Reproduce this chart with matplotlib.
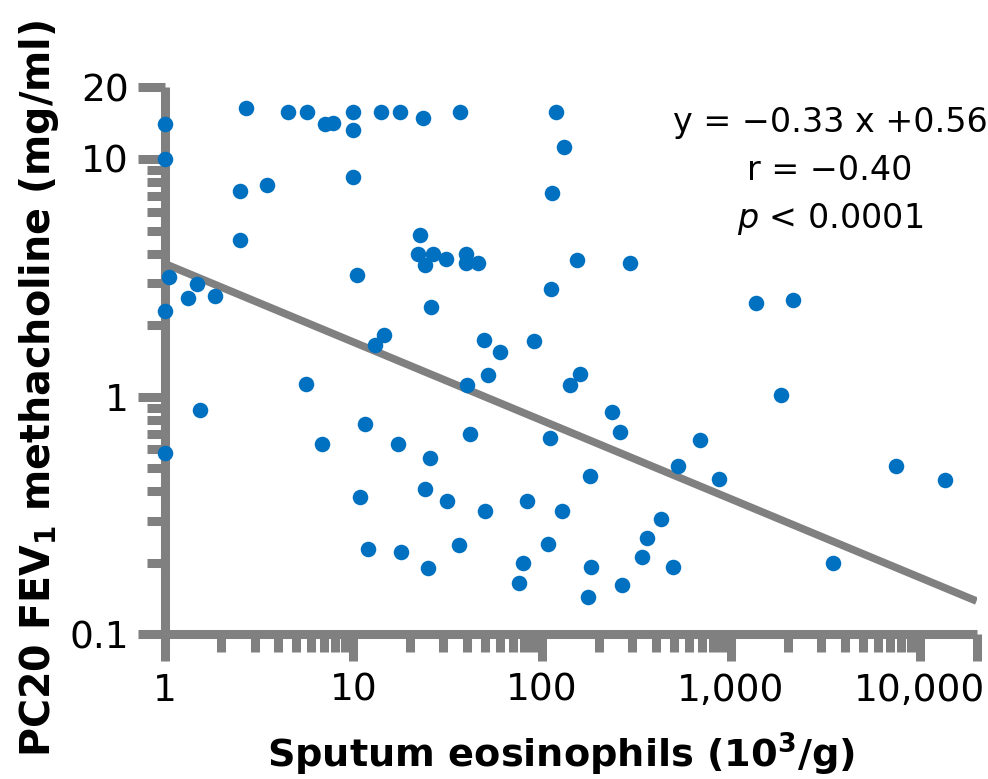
import numpy as np
import matplotlib
matplotlib.use('Agg')
import matplotlib.pyplot as plt
from matplotlib.ticker import FixedLocator, FixedFormatter, NullFormatter

# sputum eosinophils (10^3/g), one value per subject
eos = [1.0, 1.0, 2.7, 4.5, 5.7, 7.1, 7.8, 10, 10, 14, 17.7, 23.5, 36.8, 118, 131,
       2.5, 3.5, 10, 113, 2.5, 22.6, 22, 26.5, 24, 31, 39.6, 39.6, 45.8,
       1.06, 1.48, 1.34, 1.86, 1.0, 10.5, 112, 25.9, 14.6, 13.1, 49.3, 60, 90.7,
       51.8, 40, 5.6, 1.55, 1.0, 11.6, 6.8, 17.3, 25.5, 41.6, 110, 128, 10.8,
       24, 31.4, 50, 83, 11.9, 18, 25, 36.4, 108, 79, 75.5, 153, 292, 1356,
       2127, 159, 141, 1840, 235, 259, 685, 525, 865, 7460, 13560, 180, 426,
       359, 338, 182, 493, 265, 175, 3467]
# PC20 FEV1 methacholine (mg/ml)
pc20 = [14.0, 10.0, 16.4, 15.8, 15.8, 14.0, 14.1, 15.8, 13.2, 15.8, 15.8, 14.9, 15.8, 15.8, 11.2,
        7.3, 7.8, 8.4, 7.2, 4.55, 4.78, 4.0, 4.0, 3.58, 3.79, 4.0, 3.65, 3.65,
        3.2, 2.98, 2.6, 2.65, 2.3, 3.25, 2.84, 2.38, 1.82, 1.65, 1.73, 1.54, 1.72,
        1.24, 1.12, 1.13, 0.88, 0.58, 0.77, 0.63, 0.63, 0.555, 0.70, 0.67, 0.33, 0.38,
        0.41, 0.363, 0.33, 0.363, 0.228, 0.222, 0.19, 0.237, 0.24, 0.20, 0.164, 3.75, 3.65, 2.48,
        2.55, 1.25, 1.12, 1.02, 0.86, 0.71, 0.66, 0.51, 0.453, 0.51, 0.445, 0.462, 0.305,
        0.254, 0.211, 0.192, 0.192, 0.161, 0.144, 0.20]

# log-log regression reported on the figure
slope = -0.33
intercept = 0.56
stats = ['y = \u22120.33 x +0.56', 'r = \u22120.40', '$\\it{p}$ < 0.0001']

x_ticks = [1, 10, 100, 1000, 10000, 20000]
x_labels = ['1', '10', '100', '1,000', '10,000', '']
y_ticks = [0.1, 1, 10, 20]
y_labels = ['0.1', '1', '10', '20']

grey = '#808080'
blue = '#0070C0'

plt.rcParams['font.family'] = 'DejaVu Sans'
plt.rcParams['mathtext.fontset'] = 'dejavusans'

fig = plt.figure(figsize=(9.88, 7.79), dpi=100)
ax = fig.add_axes([0.1665, 0.1855, 0.8219, 0.7023])
ax.set_xscale('log')
ax.set_yscale('log')
ax.set_xlim(1, 20000)
ax.set_ylim(0.1, 20)

# regression line
xs = np.logspace(0, np.log10(20000), 50)
ax.plot(xs, 10 ** (intercept + slope * np.log10(xs)), color=grey, lw=5.5,
        solid_capstyle='butt', zorder=2)
ax.scatter(eos, pc20, s=125, color=blue, linewidths=0, zorder=4, clip_on=False)

for side in ['top', 'right']:
    ax.spines[side].set_visible(False)
for side in ['left', 'bottom']:
    ax.spines[side].set_color(grey)
    ax.spines[side].set_linewidth(6.5)
    ax.spines[side].set_capstyle('butt')

x_minor = [m * d for d in [1, 10, 100, 1000] for m in range(2, 10)]
y_minor = [m * d for d in [0.1, 1] for m in range(2, 10)]
ax.xaxis.set_major_locator(FixedLocator(x_ticks))
ax.xaxis.set_major_formatter(FixedFormatter(x_labels))
ax.xaxis.set_minor_locator(FixedLocator(x_minor))
ax.xaxis.set_minor_formatter(NullFormatter())
ax.yaxis.set_major_locator(FixedLocator(y_ticks))
ax.yaxis.set_major_formatter(FixedFormatter(y_labels))
ax.yaxis.set_minor_locator(FixedLocator(y_minor))
ax.yaxis.set_minor_formatter(NullFormatter())

ax.tick_params(which='major', length=19.5, width=6.5, color=grey, labelsize=27, pad=8)
ax.tick_params(which='minor', length=13, width=6.5, color=grey)
ax.tick_params(axis='y', which='major', pad=6)

# statistics text, centred lines
for txt, yy in zip(stats, [0.9185, 0.8308, 0.743]):
    ax.text(0.8196, yy, txt, transform=ax.transAxes, ha='center', va='baseline', fontsize=24)

fig.text(561 / 988, 1 - 768 / 779, 'Sputum eosinophils (10$^{\\mathbf{3}}$/g)',
         ha='center', va='baseline', fontsize=27.5, fontweight='bold')
fig.text(50 / 988, 1 - 388 / 779, 'PC20 FEV$_{\\mathbf{1}}$ methacholine (mg/ml)',
         rotation=90, rotation_mode='anchor', ha='center', va='baseline',
         fontsize=28.5, fontweight='bold')

fig.savefig('out.png', dpi=100)
